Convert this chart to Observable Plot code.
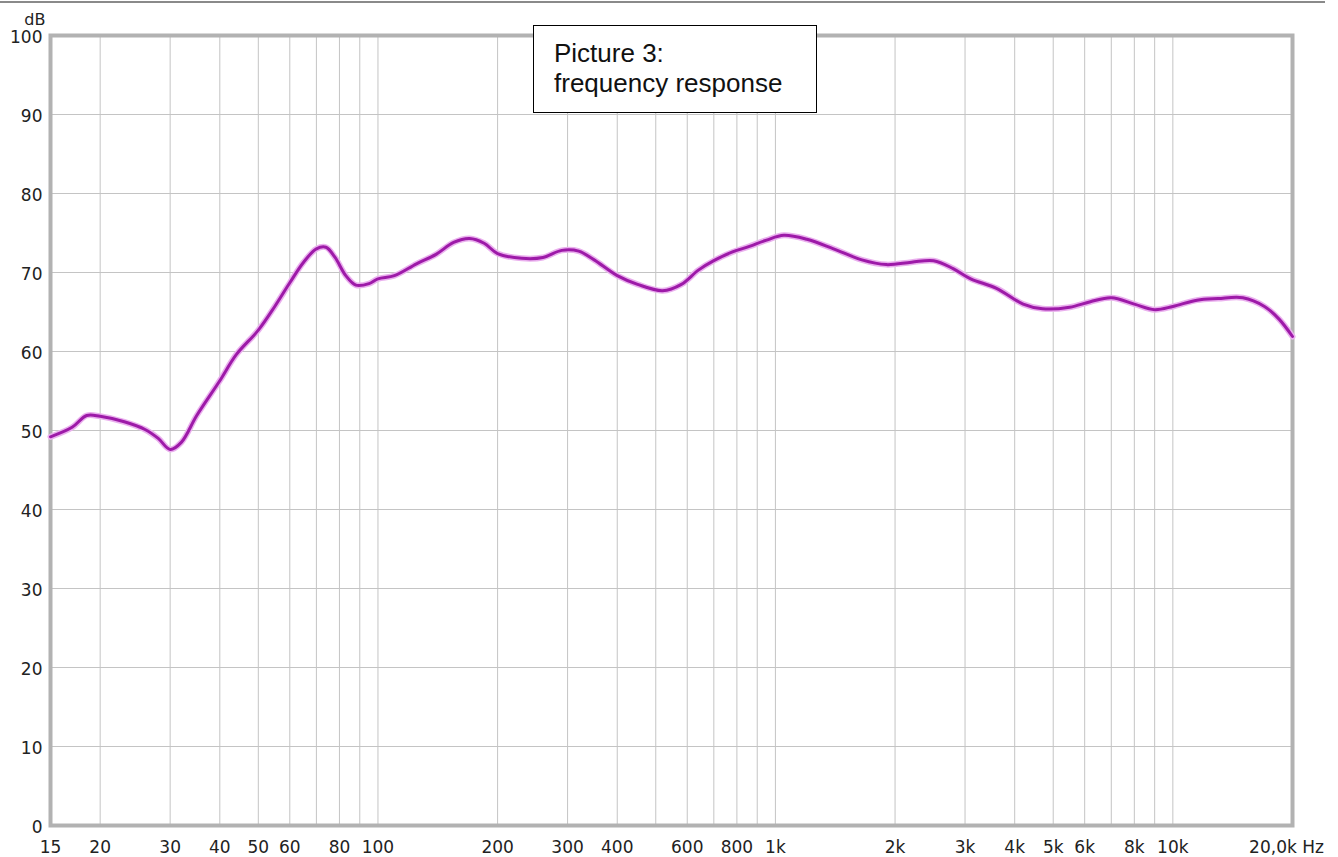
<!DOCTYPE html>
<html>
<head>
<meta charset="utf-8">
<script src="https://cdn.jsdelivr.net/npm/d3@7"></script>
<script src="https://cdn.jsdelivr.net/npm/@observablehq/plot@0.6"></script>
<style>
  html, body { margin: 0; padding: 0; background: #fff; }
  #wrap { position: relative; width: 1338px; height: 857px; overflow: hidden; }
  #topline { position: absolute; left: 0; top: 1px; width: 1325px; height: 2px; background: #8a8a8a; }
  #note { position: absolute; left: 533px; top: 25px; width: 282px; height: 86px; border: 1px solid #000; background: #fff;
          font-family: "Liberation Sans", Arial, sans-serif; font-size: 26px; line-height: 30px; color: #111; box-sizing: content-box; }
  #note div { padding-left: 20px; white-space: nowrap; }
</style>
</head>
<body>
<div id="wrap">
  <div id="topline"></div>
  <div id="chart"></div>
  <div id="note"><div style="padding-top:12px">Picture 3:</div><div>frequency response</div></div>
</div>
<script>
// Frequency (Hz) and level (dB)
const freqs = [15, 17, 18.5, 20, 23, 26, 28, 30, 32, 35, 40, 44, 50, 55, 60, 65, 70, 74, 78, 83, 88, 95, 100,
  110, 125, 140, 155, 170, 185, 200, 230, 260, 290, 320, 350, 400, 450, 520, 580, 640, 700, 780, 860, 950,
  1050, 1200, 1400, 1650, 1900, 2200, 2500, 2800, 3100, 3600, 4200, 4700, 5500, 6200, 7000, 8000, 9000,
  10000, 11500, 13000, 15000, 17000, 18500, 20000];
const levels = [49.2, 50.4, 51.9, 51.8, 51.1, 50.1, 49.0, 47.6, 48.5, 51.9, 56.3, 59.6, 62.7, 65.7, 68.7, 71.3, 73.0, 73.2, 71.9, 69.6, 68.4, 68.6, 69.2,
  69.6, 71.1, 72.3, 73.8, 74.3, 73.7, 72.4, 71.8, 71.9, 72.8, 72.7, 71.6, 69.6, 68.5, 67.7, 68.5, 70.3, 71.5, 72.6, 73.3, 74.1,
  74.7, 74.2, 73.0, 71.6, 71.0, 71.3, 71.5, 70.5, 69.2, 68.0, 66.0, 65.4, 65.6, 66.3, 66.8, 66.0, 65.3,
  65.7, 66.5, 66.7, 66.8, 65.7, 64.1, 61.9];

const yTicks = [0, 10, 20, 30, 40, 50, 60, 70, 80, 90, 100];
const xGrid = [20, 30, 40, 50, 60, 70, 80, 90, 100, 200, 300, 400, 500, 600, 700, 800, 900,
  1000, 2000, 3000, 4000, 5000, 6000, 7000, 8000, 9000, 10000];
const xTickValues = [15, 20, 30, 40, 50, 60, 80, 100, 200, 300, 400, 600, 800, 1000, 2000, 3000, 4000, 5000, 6000, 8000, 10000, 20000];
const xTickLabels = ["15", "20", "30", "40", "50", "60", "80", "100", "200", "300", "400", "600", "800", "1k", "2k", "3k", "4k", "5k", "6k", "8k", "10k", "20,0k Hz"];

const data = freqs.map((f, i) => ({f, db: levels[i]}));
const xLabels = xTickValues.map((v, i) => ({v, t: xTickLabels[i]}));
const tickFont = "'DejaVu Sans', Verdana, sans-serif";

const chart = Plot.plot({
  width: 1338,
  height: 857,
  marginLeft: 50,
  marginRight: 46,
  marginTop: 35,
  marginBottom: 32,
  style: {fontFamily: tickFont, fontSize: "17px", color: "#222", background: "transparent"},
  x: {type: "log", domain: [15, 20000], label: null, axis: null},
  y: {domain: [0, 100], label: null, axis: null},
  marks: [
    Plot.gridX(xGrid, {stroke: "#c4c4c4", strokeOpacity: 1}),
    Plot.gridY(yTicks, {stroke: "#c4c4c4", strokeOpacity: 1}),
    Plot.text(yTicks, {y: d => d, text: d => String(d), frameAnchor: "left", textAnchor: "end", dx: -8, dy: 2, fontSize: 17, fill: "#222"}),
    Plot.text(xLabels.filter(d => d.v !== 20000), {x: "v", text: "t", frameAnchor: "bottom", lineAnchor: "middle", dy: 22, fontSize: 17, fill: "#222"}),
    Plot.text(xLabels.filter(d => d.v === 20000), {x: "v", text: "t", frameAnchor: "bottom", lineAnchor: "middle", dy: 22, dx: -6, fontSize: 17, fill: "#222"}),
    Plot.text(["dB"], {frameAnchor: "top-left", text: d => d, textAnchor: "end", lineAnchor: "middle", dx: -5, dy: -16, fontSize: 16, fill: "#222"}),
    Plot.frame({stroke: "#b2b2b2", strokeWidth: 4}),
    Plot.line(data, {x: "f", y: "db", stroke: "#eab0ee", strokeWidth: 6, curve: "catmull-rom"}),
    Plot.line(data, {x: "f", y: "db", stroke: "#9d1aa8", strokeWidth: 3, curve: "catmull-rom"})
  ]
});
document.getElementById("chart").appendChild(chart);
</script>
</body>
</html>
